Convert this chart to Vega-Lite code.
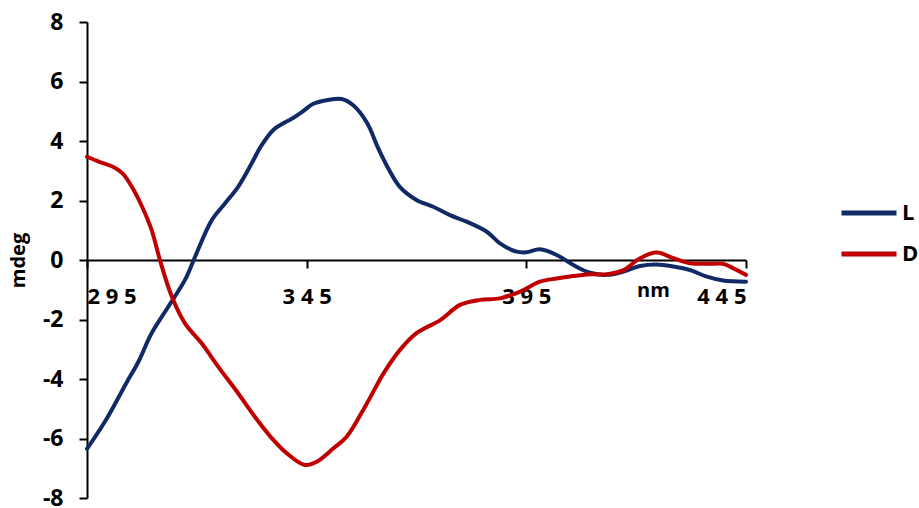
{
  "$schema": "https://vega.github.io/schema/vega-lite/v6.json",
  "width": 659,
  "height": 476,
  "autosize": {"type": "none"},
  "padding": {"left": 87, "top": 22, "right": 173, "bottom": 10},
  "config": {
    "view": {"stroke": null},
    "font": "Open Sans",
    "axis": {"grid": false, "domainColor": "#000000", "tickColor": "#000000", "domainWidth": 2, "tickWidth": 2, "tickSize": 8, "labelColor": "#000000", "titleColor": "#000000", "labelFont": "Open Sans", "titleFont": "Open Sans", "labelFontWeight": 700, "titleFontWeight": 700, "labelFontSize": 23, "titleFontSize": 20}
  },
  "data": {
    "values": [
      {"nm": 295, "mdeg": -6.35, "sample": "L"},
      {"nm": 299.3, "mdeg": -5.38, "sample": "L"},
      {"nm": 303.9, "mdeg": -4.15, "sample": "L"},
      {"nm": 306.7, "mdeg": -3.42, "sample": "L"},
      {"nm": 309.7, "mdeg": -2.46, "sample": "L"},
      {"nm": 313.5, "mdeg": -1.57, "sample": "L"},
      {"nm": 317.3, "mdeg": -0.67, "sample": "L"},
      {"nm": 319.6, "mdeg": 0.11, "sample": "L"},
      {"nm": 323.4, "mdeg": 1.34, "sample": "L"},
      {"nm": 326.4, "mdeg": 1.9, "sample": "L"},
      {"nm": 329.4, "mdeg": 2.46, "sample": "L"},
      {"nm": 332.5, "mdeg": 3.25, "sample": "L"},
      {"nm": 334.5, "mdeg": 3.8, "sample": "L"},
      {"nm": 337.4, "mdeg": 4.37, "sample": "L"},
      {"nm": 340, "mdeg": 4.62, "sample": "L"},
      {"nm": 342, "mdeg": 4.78, "sample": "L"},
      {"nm": 344, "mdeg": 4.98, "sample": "L"},
      {"nm": 346.5, "mdeg": 5.25, "sample": "L"},
      {"nm": 349.6, "mdeg": 5.37, "sample": "L"},
      {"nm": 353, "mdeg": 5.41, "sample": "L"},
      {"nm": 355.6, "mdeg": 5.2, "sample": "L"},
      {"nm": 358.7, "mdeg": 4.62, "sample": "L"},
      {"nm": 361.3, "mdeg": 3.75, "sample": "L"},
      {"nm": 363.5, "mdeg": 3.1, "sample": "L"},
      {"nm": 366.2, "mdeg": 2.46, "sample": "L"},
      {"nm": 370, "mdeg": 2.02, "sample": "L"},
      {"nm": 373.8, "mdeg": 1.79, "sample": "L"},
      {"nm": 377.6, "mdeg": 1.51, "sample": "L"},
      {"nm": 381.4, "mdeg": 1.29, "sample": "L"},
      {"nm": 386, "mdeg": 0.95, "sample": "L"},
      {"nm": 389, "mdeg": 0.56, "sample": "L"},
      {"nm": 392.8, "mdeg": 0.28, "sample": "L"},
      {"nm": 395, "mdeg": 0.26, "sample": "L"},
      {"nm": 398.1, "mdeg": 0.36, "sample": "L"},
      {"nm": 401.9, "mdeg": 0.17, "sample": "L"},
      {"nm": 405.7, "mdeg": -0.17, "sample": "L"},
      {"nm": 409.5, "mdeg": -0.43, "sample": "L"},
      {"nm": 413.3, "mdeg": -0.5, "sample": "L"},
      {"nm": 417.1, "mdeg": -0.39, "sample": "L"},
      {"nm": 420.9, "mdeg": -0.2, "sample": "L"},
      {"nm": 424.7, "mdeg": -0.15, "sample": "L"},
      {"nm": 428.5, "mdeg": -0.22, "sample": "L"},
      {"nm": 432.3, "mdeg": -0.34, "sample": "L"},
      {"nm": 436.1, "mdeg": -0.56, "sample": "L"},
      {"nm": 439.8, "mdeg": -0.69, "sample": "L"},
      {"nm": 445, "mdeg": -0.73, "sample": "L"},
      {"nm": 295, "mdeg": 3.47, "sample": "D"},
      {"nm": 297.8, "mdeg": 3.3, "sample": "D"},
      {"nm": 300.8, "mdeg": 3.14, "sample": "D"},
      {"nm": 303.1, "mdeg": 2.91, "sample": "D"},
      {"nm": 305.4, "mdeg": 2.41, "sample": "D"},
      {"nm": 307.7, "mdeg": 1.74, "sample": "D"},
      {"nm": 309.7, "mdeg": 1.01, "sample": "D"},
      {"nm": 311.6, "mdeg": 0, "sample": "D"},
      {"nm": 314.3, "mdeg": -1.23, "sample": "D"},
      {"nm": 317.3, "mdeg": -2.13, "sample": "D"},
      {"nm": 321.1, "mdeg": -2.8, "sample": "D"},
      {"nm": 324.9, "mdeg": -3.59, "sample": "D"},
      {"nm": 329.4, "mdeg": -4.48, "sample": "D"},
      {"nm": 333.2, "mdeg": -5.27, "sample": "D"},
      {"nm": 337, "mdeg": -5.98, "sample": "D"},
      {"nm": 340.5, "mdeg": -6.5, "sample": "D"},
      {"nm": 344.6, "mdeg": -6.89, "sample": "D"},
      {"nm": 347.3, "mdeg": -6.78, "sample": "D"},
      {"nm": 351.1, "mdeg": -6.33, "sample": "D"},
      {"nm": 354.1, "mdeg": -5.94, "sample": "D"},
      {"nm": 358.7, "mdeg": -4.82, "sample": "D"},
      {"nm": 362.5, "mdeg": -3.81, "sample": "D"},
      {"nm": 366.2, "mdeg": -3.03, "sample": "D"},
      {"nm": 370, "mdeg": -2.46, "sample": "D"},
      {"nm": 375.4, "mdeg": -2.02, "sample": "D"},
      {"nm": 379.9, "mdeg": -1.51, "sample": "D"},
      {"nm": 384.5, "mdeg": -1.34, "sample": "D"},
      {"nm": 389, "mdeg": -1.29, "sample": "D"},
      {"nm": 393.6, "mdeg": -1.06, "sample": "D"},
      {"nm": 398.1, "mdeg": -0.73, "sample": "D"},
      {"nm": 401.9, "mdeg": -0.62, "sample": "D"},
      {"nm": 405.7, "mdeg": -0.54, "sample": "D"},
      {"nm": 409.5, "mdeg": -0.48, "sample": "D"},
      {"nm": 413.3, "mdeg": -0.48, "sample": "D"},
      {"nm": 417.1, "mdeg": -0.34, "sample": "D"},
      {"nm": 420.9, "mdeg": 0.06, "sample": "D"},
      {"nm": 424.7, "mdeg": 0.25, "sample": "D"},
      {"nm": 428.5, "mdeg": 0.06, "sample": "D"},
      {"nm": 432.3, "mdeg": -0.11, "sample": "D"},
      {"nm": 436.1, "mdeg": -0.13, "sample": "D"},
      {"nm": 439.8, "mdeg": -0.13, "sample": "D"},
      {"nm": 442.1, "mdeg": -0.28, "sample": "D"},
      {"nm": 445, "mdeg": -0.5, "sample": "D"}
    ]
  },
  "mark": {"type": "line", "interpolate": "catmull-rom", "strokeWidth": 4, "strokeCap": "round"},
  "encoding": {
    "x": {
      "field": "nm",
      "type": "quantitative",
      "scale": {"domain": [295, 445], "nice": false, "zero": false},
      "axis": {
        "values": [295, 345, 395, 445],
        "offset": -238,
        "title": "nm",
        "titleX": 566,
        "titleY": 36,
        "titleAlign": "center",
        "titleBaseline": "alphabetic",
        "labelFontSize": 22,
        "labelPadding": 18,
        "labelExpr": "join(split(datum.label, ''), ' ')"
      }
    },
    "y": {
      "field": "mdeg",
      "type": "quantitative",
      "scale": {"domain": [-8, 8], "nice": false},
      "axis": {
        "values": [-8, -6, -4, -2, 0, 2, 4, 6, 8],
        "title": "mdeg",
        "titleX": -69,
        "titleY": 238,
        "titleAngle": -90,
        "titleAlign": "center",
        "titleBaseline": "middle",
        "labelPadding": 16,
        "labelExpr": "replace(datum.label, '\u2212', '-')"
      }
    },
    "color": {
      "field": "sample",
      "type": "nominal",
      "sort": ["L", "D"],
      "scale": {"domain": ["L", "D"], "range": ["#112a66", "#c00000"]},
      "legend": {
        "title": null,
        "orient": "none",
        "legendX": 752,
        "legendY": 161,
        "symbolType": "stroke",
        "symbolSize": 3025,
        "symbolStrokeWidth": 5,
        "labelFontSize": 22,
        "labelFontWeight": 700,
        "labelFont": "Open Sans",
        "labelColor": "#000000",
        "labelOffset": 3,
        "rowPadding": -4
      }
    }
  }
}
